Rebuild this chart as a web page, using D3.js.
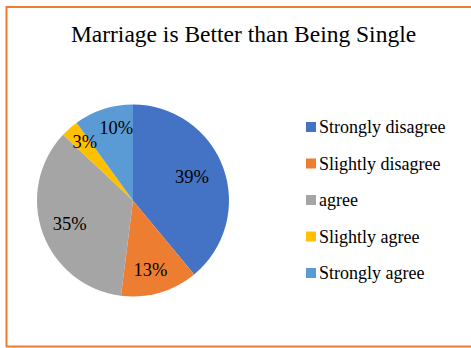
<!DOCTYPE html>
<html><head><meta charset="utf-8">
<script src="https://cdn.jsdelivr.net/npm/d3@7"></script>
<style>body{margin:0;background:#fff}svg{display:block}text{font-family:"Liberation Serif","Times New Roman","DejaVu Serif",serif}</style>
</head><body>
<script>
const categories = ["Strongly disagree","Slightly disagree","agree","Slightly agree","Strongly agree"];
const values = [39, 13, 35, 3, 10];
const colors = ["#4472C4","#ED7D31","#A5A5A5","#FFC000","#5B9BD5"];
const title = "Marriage is Better than Being Single";

const W = 471, H = 348;
const svg = d3.select("body").append("svg").attr("width", W).attr("height", H);

svg.append("rect").attr("x", 6.5).attr("y", 7).attr("width", 480).attr("height", 339.5)
  .attr("fill", "#fff").attr("stroke", "#ED7D31").attr("stroke-width", 2);

svg.append("text").attr("x", 243.5).attr("y", 42).attr("text-anchor", "middle")
  .attr("font-size", 23.5).attr("fill", "#000").text(title);

const cx = 133, cy = 200.5, r = 96;
const color = d3.scaleOrdinal().domain(categories).range(colors);
const pie = d3.pie().sort(null).value(d => d.v);
const data = categories.map((c, i) => ({c, v: values[i]}));
const arcs = pie(data);
const arc = d3.arc().innerRadius(0).outerRadius(r);
const g = svg.append("g").attr("transform", `translate(${cx},${cy})`);
g.selectAll("path").data(arcs).join("path").attr("d", arc)
  .attr("fill", d => color(d.data.c));

const labelR = [0.66, 0.745, 0.70, 0.79, 0.78];
const labelShift = [-2, 2, 0, 2, 5];
g.selectAll("text").data(arcs).join("text")
  .attr("transform", (d, i) => {
    const a = (d.startAngle + d.endAngle) / 2 + labelShift[i] * Math.PI / 180;
    const rr = r * labelR[i];
    return `translate(${Math.sin(a) * rr},${-Math.cos(a) * rr})`;
  })
  .attr("text-anchor", "middle").attr("dy", "0.35em")
  .attr("font-size", 18.5).attr("fill", "#000")
  .text(d => d.data.v + "%");

const legend = svg.append("g");
const ly = d3.scalePoint().domain(categories).range([127, 273]);
const items = legend.selectAll("g").data(categories).join("g")
  .attr("transform", d => `translate(306,${ly(d)})`);
items.append("rect").attr("x", 0).attr("y", -5).attr("width", 10).attr("height", 10)
  .attr("fill", d => color(d));
items.append("text").attr("x", 13).attr("y", 0).attr("dy", "0.35em")
  .attr("font-size", 18).attr("fill", "#000").text(d => d);
</script>
</body></html>
